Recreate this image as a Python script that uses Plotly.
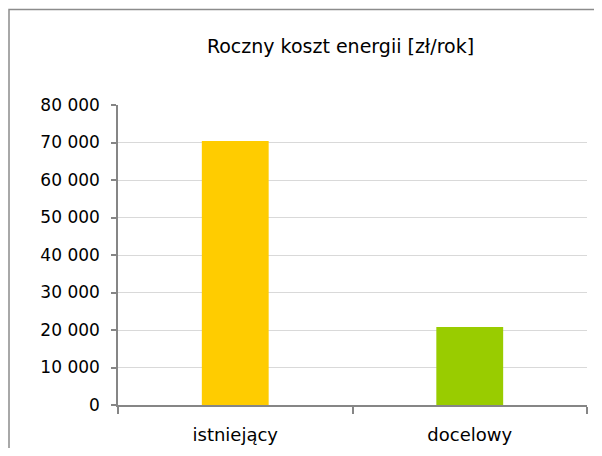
import plotly.graph_objects as go

categories = ["istniejący", "docelowy"]
values = [70400, 20800]
colors = ["#FFCC00", "#99CC00"]
tick_vals = [0, 10000, 20000, 30000, 40000, 50000, 60000, 70000, 80000]
tick_text = ["0", "10 000", "20 000", "30 000", "40 000", "50 000", "60 000", "70 000", "80 000"]

FONT = "'DejaVu Sans', Verdana, sans-serif"

fig = go.Figure(go.Bar(x=categories, y=values, marker=dict(color=colors, line=dict(width=0)),
                       width=0.285))

# page body has an 8px margin, so figure coords = screen coords - 8
OFF = 8
W, H = 602 - 2 * OFF, 456 - 2 * OFF
L, T = 118 - OFF, 105 - OFF
R = W - (587 - OFF)
B = H - (405 - OFF)
pw, ph = W - L - R, H - T - B

def px_x(p):
    return (p - OFF - L) / pw

def px_y(p):
    return (H - B - (p - OFF)) / ph

fig.update_layout(
    width=W, height=H,
    margin=dict(l=L, r=R, t=T, b=B),
    paper_bgcolor="white", plot_bgcolor="white",
    showlegend=False,
    title=dict(text="Roczny koszt energii [zł/rok]", x=((207 + 474) / 2 - OFF) / W, xanchor="center",
               y=1 - (46 - OFF) / H, yanchor="middle",
               font=dict(family=FONT, size=19, color="#000000")),
    font=dict(family=FONT, size=17, color="#000000"),
    xaxis=dict(showline=True, linecolor="#868686", linewidth=1.5,
               ticks="outside", ticklen=7, tickcolor="#868686", tickwidth=1.5,
               tickson="boundaries", showgrid=False, automargin=False,
               ticklabelstandoff=13,
               tickfont=dict(family=FONT, size=18, color="#000000")),
    yaxis=dict(range=[0, 80000], tickvals=tick_vals, ticktext=tick_text,
               showline=True, linecolor="#868686", linewidth=1.5,
               ticks="outside", ticklen=5, tickcolor="#868686", tickwidth=1.5,
               showgrid=True, gridcolor="#D9D9D9", gridwidth=1,
               zeroline=False, automargin=False, ticklabelstandoff=8,
               tickfont=dict(family=FONT, size=17, color="#000000")),
    shapes=[dict(type="rect", xref="paper", yref="paper",
                 x0=px_x(9), x1=px_x(640), y0=px_y(500), y1=px_y(9.5),
                 line=dict(color="#8C8C8C", width=1.5), fillcolor="rgba(0,0,0,0)", layer="below")],
)

fig.write_html("out.html")
